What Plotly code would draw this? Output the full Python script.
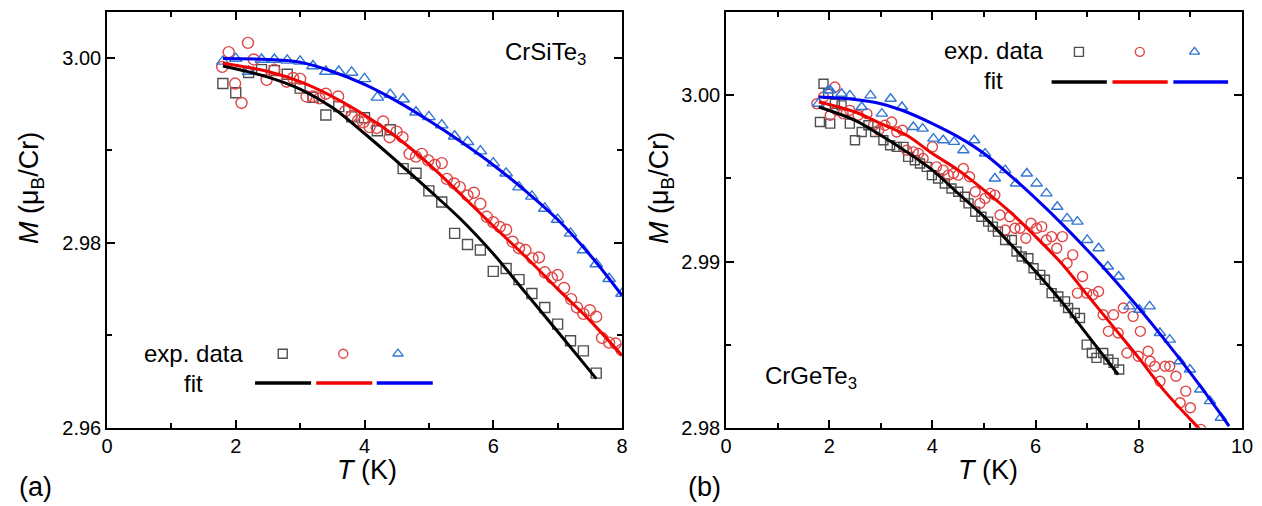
import plotly.graph_objects as go

# ---------------- (a) CrSiTe3 ----------------
si_sq_T = [1.8, 2.0, 2.2, 2.4, 2.6, 2.8, 3.0, 3.2, 3.4, 3.6, 3.8, 4.0, 4.2, 4.4, 4.6, 4.8, 5.0,
           5.2, 5.4, 5.6, 5.8, 6.0, 6.2, 6.4, 6.6, 6.8, 7.0, 7.2, 7.4, 7.6]
si_sq_M = [2.9972, 2.9962, 2.9984, 2.9987, 2.9986, 2.9982, 2.9967, 2.9957, 2.9938, 2.9947, 2.9936,
           2.9935, 2.9921, 2.9922, 2.9880, 2.9875, 2.9856, 2.9844, 2.9810, 2.9798, 2.9792, 2.9769,
           2.9772, 2.9760, 2.9745, 2.9730, 2.9712, 2.9694, 2.9683, 2.9659]

si_ci_T = [1.79, 1.89, 1.99, 2.09, 2.19, 2.28, 2.48, 2.60, 2.79, 2.89, 3.00, 3.10, 3.20, 3.30,
           3.40, 3.59, 3.70, 3.80, 3.90, 3.98, 4.08, 4.19, 4.29, 4.39, 4.50, 4.59, 4.70, 4.80,
           4.89, 4.99, 5.09, 5.20, 5.28, 5.39, 5.48, 5.60, 5.70, 5.80, 5.90, 6.00, 6.10, 6.20,
           6.30, 6.40, 6.50, 6.61, 6.71, 6.80, 6.91, 7.00, 7.10, 7.21, 7.30, 7.40, 7.50, 7.60,
           7.69, 7.80, 7.90, 7.99]
si_ci_M = [2.9990, 3.0006, 2.9972, 2.9951, 3.0016, 2.9998, 2.9976, 2.9987, 2.9974, 2.9978, 2.9977,
           2.9958, 2.9958, 2.9956, 2.9961, 2.9958, 2.9942, 2.9937, 2.9932, 2.9930, 2.9925, 2.9924,
           2.9931, 2.9914, 2.9920, 2.9914, 2.9896, 2.9893, 2.9896, 2.9889, 2.9884, 2.9886, 2.9869,
           2.9864, 2.9860, 2.9851, 2.9854, 2.9842, 2.9828, 2.9822, 2.9817, 2.9814, 2.9801, 2.9794,
           2.9792, 2.9783, 2.9784, 2.9768, 2.9762, 2.9765, 2.9751, 2.9739, 2.9730, 2.9723, 2.9727,
           2.9720, 2.9697, 2.9692, 2.9691, 2.9684]

si_tr_T = [1.8, 2.0, 2.2, 2.4, 2.6, 2.8, 3.0, 3.2, 3.4, 3.6, 3.8, 4.0, 4.2, 4.4, 4.6, 4.8, 5.0,
           5.2, 5.4, 5.6, 5.8, 6.0, 6.2, 6.4, 6.6, 6.8, 7.0, 7.2, 7.4, 7.6, 7.8, 8.0]
si_tr_M = [2.9996, 2.9999, 2.9985, 2.9998, 2.9998, 2.9997, 2.9996, 2.9991, 2.9985, 2.9985, 2.9984,
           2.9977, 2.9957, 2.9960, 2.9955, 2.9941, 2.9936, 2.9927, 2.9915, 2.9909, 2.9899, 2.9886,
           2.9875, 2.9860, 2.9850, 2.9837, 2.9825, 2.9810, 2.9792, 2.9777, 2.9761, 2.9745]

si_fit_k_T = [1.8, 2.5, 3.0, 3.5, 4.0, 4.5, 5.0, 5.5, 6.0, 6.5, 7.0, 7.6]
si_fit_k_M = [2.9991, 2.9979, 2.9966, 2.9946, 2.9918, 2.9888, 2.9857, 2.9825, 2.9788, 2.9746,
              2.9704, 2.9653]
si_fit_r_T = [1.8, 2.5, 3.0, 3.5, 4.0, 4.5, 5.0, 5.5, 6.0, 6.5, 7.0, 7.5, 8.0]
si_fit_r_M = [2.9994, 2.9985, 2.9974, 2.9958, 2.9938, 2.9914, 2.9885, 2.9852, 2.9818, 2.9785,
              2.9750, 2.9716, 2.9678]
si_fit_b_T = [1.8, 2.5, 3.0, 3.5, 4.0, 4.5, 5.0, 5.5, 6.0, 6.5, 7.0, 7.5, 8.0]
si_fit_b_M = [2.9999, 2.9998, 2.9995, 2.9985, 2.9971, 2.9953, 2.9932, 2.9909, 2.9884, 2.9856,
              2.9825, 2.9787, 2.9743]

# ---------------- (b) CrGeTe3 ----------------
ge_sq_T = [1.82, 1.89, 1.98, 2.02, 2.11, 2.24, 2.40, 2.50, 2.63, 2.76, 2.89, 3.05, 3.18, 3.31,
           3.44, 3.53, 3.66, 3.76, 3.89, 3.99, 4.11, 4.24, 4.37, 4.50, 4.63, 4.70, 4.83, 4.95,
           5.08, 5.17, 5.27, 5.41, 5.54, 5.63, 5.73, 5.86, 5.96, 6.09, 6.18, 6.31, 6.44, 6.57,
           6.63, 6.76, 6.86, 6.99, 7.09, 7.18, 7.31, 7.41, 7.51, 7.62]
ge_sq_M = [2.9984, 3.0007, 3.0001, 2.9983, 2.9995, 2.9994, 2.9983, 2.9973, 2.9978, 2.9982, 2.9978,
           2.9973, 2.9970, 2.9969, 2.9969, 2.9963, 2.9961, 2.9959, 2.9957, 2.9952, 2.9950, 2.9947,
           2.9944, 2.9942, 2.9939, 2.9935, 2.9930, 2.9927, 2.9924, 2.9921, 2.9918, 2.9913, 2.9913,
           2.9906, 2.9903, 2.9902, 2.9896, 2.9892, 2.9889, 2.9881, 2.9879, 2.9876, 2.9872, 2.9869,
           2.9866, 2.9850, 2.9845, 2.9842, 2.9845, 2.9841, 2.9839, 2.9835]

ge_ci_T = [1.76, 1.89, 2.02, 2.11, 2.15, 2.27, 2.40, 2.56, 2.73, 2.86, 2.96, 3.08, 3.21, 3.31,
           3.42, 3.50, 3.63, 3.73, 3.82, 4.00, 4.08, 4.21, 4.31, 4.41, 4.50, 4.60, 4.72, 4.83,
           4.92, 5.02, 5.12, 5.21, 5.31, 5.41, 5.50, 5.60, 5.70, 5.81, 5.91, 6.02, 6.12, 6.21,
           6.31, 6.41, 6.52, 6.61, 6.72, 6.81, 6.91, 6.99, 7.11, 7.22, 7.31, 7.41, 7.51, 7.60,
           7.70, 7.77, 7.89, 7.99, 8.03, 8.18, 8.22, 8.31, 8.41, 8.51, 8.60, 8.72, 8.80, 8.91,
           9.00, 9.20]
ge_ci_M = [2.9995, 2.9999, 2.9988, 3.0005, 2.9991, 2.9989, 2.9991, 2.9988, 2.9989, 2.9982, 2.9979,
           2.9982, 2.9984, 2.9978, 2.9979, 2.9967, 2.9966, 2.9965, 2.9962, 2.9969, 2.9957, 2.9955,
           2.9952, 2.9953, 2.9952, 2.9956, 2.9951, 2.9942, 2.9935, 2.9938, 2.9941, 2.9940, 2.9928,
           2.9919, 2.9927, 2.9920, 2.9920, 2.9914, 2.9923, 2.9920, 2.9921, 2.9913, 2.9915, 2.9908,
           2.9915, 2.9899, 2.9904, 2.9881, 2.9891, 2.9881, 2.9880, 2.9882, 2.9868, 2.9858, 2.9868,
           2.9857, 2.9872, 2.9845, 2.9867, 2.9843, 2.9858, 2.9846, 2.9840, 2.9837, 2.9828, 2.9837,
           2.9837, 2.9831, 2.9815, 2.9822, 2.9812, 2.9799]

ge_tr_T = [1.79, 1.98, 2.02, 2.24, 2.40, 2.63, 2.80, 3.02, 3.19, 3.41, 3.63, 3.81, 4.02, 4.21,
           4.42, 4.60, 4.81, 5.02, 5.21, 5.41, 5.62, 5.83, 6.02, 6.21, 6.42, 6.61, 6.81, 7.00,
           7.22, 7.40, 7.61, 7.82, 8.01, 8.21, 8.41, 8.60, 8.79, 8.99, 9.19, 9.38, 9.59]
ge_tr_M = [2.9995, 3.0003, 3.0003, 3.0001, 3.0000, 2.9993, 3.0000, 2.9989, 2.9998, 2.9993, 2.9981,
           2.9980, 2.9974, 2.9973, 2.9972, 2.9967, 2.9973, 2.9965, 2.9950, 2.9955, 2.9947, 2.9953,
           2.9947, 2.9941, 2.9933, 2.9926, 2.9924, 2.9913, 2.9908, 2.9897, 2.9891, 2.9873, 2.9871,
           2.9873, 2.9857, 2.9853, 2.9840, 2.9835, 2.9823, 2.9816, 2.9806]

ge_fit_k_T = [1.8, 2.5, 3.0, 3.5, 4.0, 4.5, 5.0, 5.5, 6.0, 6.5, 7.0, 7.6]
ge_fit_k_M = [2.9993, 2.9985, 2.9976, 2.9966, 2.9955, 2.9941, 2.9927, 2.9911, 2.9894, 2.9876,
              2.9856, 2.9832]
ge_fit_r_T = [1.8, 2.5, 3.0, 3.5, 4.0, 4.5, 5.0, 5.5, 6.0, 6.5, 7.0, 7.5, 8.0, 8.5, 9.0, 9.25]
ge_fit_r_M = [2.9996, 2.9990, 2.9983, 2.9976, 2.9965, 2.9955, 2.9943, 2.9930, 2.9915, 2.9899,
              2.9880, 2.9861, 2.9842, 2.9822, 2.9805, 2.9797]
ge_fit_b_T = [1.8, 2.5, 3.0, 3.5, 4.0, 4.5, 5.0, 5.5, 6.0, 6.5, 7.0, 7.5, 8.0, 8.5, 9.0, 9.5, 9.75]
ge_fit_b_M = [2.9999, 2.99975, 2.9995, 2.9990, 2.9983, 2.9975, 2.9965, 2.9952, 2.9938, 2.9923,
              2.9907, 2.9890, 2.9872, 2.9853, 2.9833, 2.9812, 2.9801]

FONT = "Liberation Sans, Arial, sans-serif"
SQ_COLOR = "#505050"
CI_COLOR = "#e04646"
TR_COLOR = "#3476d4"
FIT_K = "#000000"
FIT_R = "#f00000"
FIT_B = "#0000f0"

fig = go.Figure()


def add_panel(xa, ya, sq, ci, tr, fits, msize):
    fig.add_trace(go.Scatter(x=sq[0], y=sq[1], mode="markers", xaxis=xa, yaxis=ya,
                             marker=dict(symbol="square-open", size=msize - 1, color=SQ_COLOR,
                                         line=dict(width=1.4, color=SQ_COLOR))))
    fig.add_trace(go.Scatter(x=ci[0], y=ci[1], mode="markers", xaxis=xa, yaxis=ya,
                             marker=dict(symbol="circle-open", size=msize, color=CI_COLOR,
                                         line=dict(width=1.4, color=CI_COLOR))))
    fig.add_trace(go.Scatter(x=tr[0], y=tr[1], mode="markers", xaxis=xa, yaxis=ya,
                             marker=dict(symbol="triangle-up-open", size=msize, color=TR_COLOR,
                                         line=dict(width=1.4, color=TR_COLOR))))
    for (t, m), col in zip(fits, (FIT_K, FIT_R, FIT_B)):
        fig.add_trace(go.Scatter(x=t, y=m, mode="lines", xaxis=xa, yaxis=ya,
                                 line=dict(color=col, width=3, shape="spline")))


add_panel("x", "y", (si_sq_T, si_sq_M), (si_ci_T, si_ci_M), (si_tr_T, si_tr_M),
          [(si_fit_k_T, si_fit_k_M), (si_fit_r_T, si_fit_r_M), (si_fit_b_T, si_fit_b_M)], 11)
add_panel("x2", "y2", (ge_sq_T, ge_sq_M), (ge_ci_T, ge_ci_M), (ge_tr_T, ge_tr_M),
          [(ge_fit_k_T, ge_fit_k_M), (ge_fit_r_T, ge_fit_r_M), (ge_fit_b_T, ge_fit_b_M)], 10)


def add_key(xa, ya, sym_x, sym_y, line_x, line_y, text_x, text_y1, text_y2):
    # in-plot key: one symbol and one line segment per data set
    for sx, sym, col in zip(sym_x, ("square-open", "circle-open", "triangle-up-open"),
                            (SQ_COLOR, CI_COLOR, TR_COLOR)):
        fig.add_trace(go.Scatter(x=[sx], y=[sym_y], mode="markers", xaxis=xa, yaxis=ya,
                                 marker=dict(symbol=sym, size=9, color=col,
                                             line=dict(width=1.4, color=col))))
    for (x0, x1), col in zip(line_x, (FIT_K, FIT_R, FIT_B)):
        fig.add_trace(go.Scatter(x=[x0, x1], y=[line_y, line_y], mode="lines", xaxis=xa,
                                 yaxis=ya, line=dict(color=col, width=3.5)))
    for txt, ty in (("exp. data", text_y1), ("fit", text_y2)):
        fig.add_annotation(x=text_x, y=ty, xref=xa, yref=ya, text=txt, showarrow=False,
                           xanchor="center", yanchor="middle",
                           font=dict(size=24, family=FONT, color="black"))


add_key("x", "y", [2.73, 3.67, 4.52], 2.9680,
        [(2.30, 3.17), (3.25, 4.12), (4.19, 5.06)], 2.96483, 1.34, 2.9680, 2.96483)
add_key("x2", "y2", [6.84, 8.02, 9.08], 3.00262,
        [(6.31, 7.38), (7.49, 8.56), (8.67, 9.73)], 3.0008, 5.19, 3.00271, 3.0009)

fig.add_annotation(x=6.15, y=3.0004, xref="x", yref="y", xanchor="left", yanchor="middle",
                   text="CrSiTe<sub>3</sub>", showarrow=False,
                   font=dict(size=24, family=FONT, color="black"))
fig.add_annotation(x=0.72, y=2.98304, xref="x2", yref="y2", xanchor="left", yanchor="middle",
                   text="CrGeTe<sub>3</sub>", showarrow=False,
                   font=dict(size=24, family=FONT, color="black"))

W, H = 1262, 506
YDOM = [1 - 427.7 / H, 1 - 12.3 / H]

axis_common = dict(showline=True, linecolor="black", linewidth=1.5, mirror="ticks",
                   ticks="inside", ticklen=8, tickwidth=1.5, tickcolor="black",
                   showgrid=False, zeroline=False, automargin=False,
                   tickfont=dict(size=20, family=FONT, color="black"))
minor_common = dict(ticks="inside", ticklen=5, tickwidth=1.5, tickcolor="black")

fig.update_layout(
    template="none",
    width=W, height=H, margin=dict(l=0, r=0, t=0, b=0, pad=0), autosize=False,
    paper_bgcolor="white", plot_bgcolor="white", showlegend=False,
    xaxis=dict(domain=[107 / W, 622 / W], range=[0, 8], dtick=2, anchor="y",
               minor=dict(dtick=1, **minor_common), **axis_common),
    yaxis=dict(domain=YDOM, range=[2.96, 3.0049], dtick=0.02, tickformat=".2f", anchor="x",
               minor=dict(dtick=0.01, **minor_common), **axis_common),
    xaxis2=dict(domain=[726 / W, 1242 / W], range=[0, 10], dtick=2, anchor="y2",
                minor=dict(dtick=1, **minor_common), **axis_common),
    yaxis2=dict(domain=YDOM, range=[2.98, 3.005], dtick=0.01, tickformat=".2f", anchor="x2",
                minor=dict(dtick=0.005, **minor_common), **axis_common),
)

# axis titles and panel labels
title_font = dict(size=27, family=FONT, color="black")
for xc in (367, 988):
    fig.add_annotation(x=xc / W, y=1 - 470 / H, xref="paper", yref="paper",
                       xanchor="center", yanchor="middle",
                       text="<i>T</i> (K)", showarrow=False, font=title_font)
for xc in (31, 661):
    fig.add_annotation(x=xc / W, y=1 - 188 / H, xref="paper", yref="paper", textangle=-90,
                       xanchor="center", yanchor="middle",
                       text="<i>M</i> (μ<sub>B</sub>/Cr)", showarrow=False, font=title_font)
for xc, lab in ((35, "(a)"), (704, "(b)")):
    fig.add_annotation(x=xc / W, y=1 - 487 / H, xref="paper", yref="paper",
                       xanchor="center", yanchor="middle",
                       text=lab, showarrow=False, font=title_font)

fig.write_html("out.html")
